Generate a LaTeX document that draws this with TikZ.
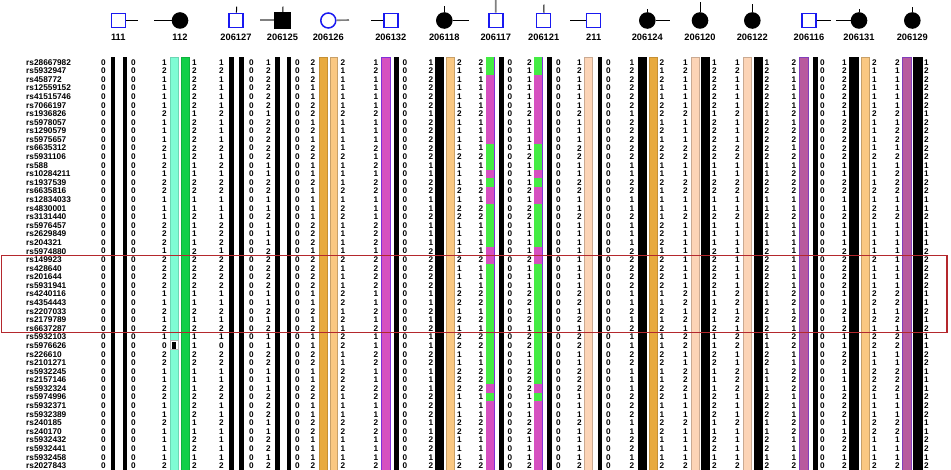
\documentclass[tikz,border=0pt]{standalone}
\usepackage{fontspec}
\setmainfont{Liberation Sans}
\definecolor{pblue}{RGB}{25,25,240}
\definecolor{aquab}{RGB}{127,252,212}
\definecolor{greenb}{RGB}{16,208,72}
\definecolor{orangeb}{RGB}{232,170,62}
\definecolor{lorangeb}{RGB}{250,200,130}
\definecolor{magentab}{RGB}{214,80,192}
\definecolor{greenc}{RGB}{68,236,68}
\definecolor{peachb}{RGB}{252,212,182}
\definecolor{purpleb}{RGB}{184,90,158}
\definecolor{redbox}{RGB}{180,40,45}
\definecolor{lgray}{RGB}{128,128,128}
% haplotypes (48 SNPs each)
\def\HZ{0,0,0,0,0,0,0,0,0,0,0,0,0,0,0,0,0,0,0,0,0,0,0,0,0,0,0,0,0,0,0,0,0,0,0,0,0,0,0,0,0,0,0,0,0,0,0,0}
\def\HA{1,2,1,1,1,1,2,1,1,1,2,1,2,1,2,2,1,1,1,2,2,2,1,2,2,2,2,1,1,2,1,2,1,0,2,2,1,1,2,2,1,1,2,1,1,1,1,2}
\def\HB{1,2,2,2,2,2,1,2,2,2,2,2,1,1,2,2,1,1,2,1,1,1,2,2,2,2,2,1,1,2,1,2,1,1,2,2,1,1,1,2,2,2,1,1,2,2,1,2}
\def\HC{2,1,2,1,1,2,2,1,2,1,2,2,1,1,2,1,1,1,1,2,2,2,1,2,2,2,2,1,1,2,1,2,1,1,2,2,1,1,2,2,1,1,2,2,1,1,1,2}
\def\HD{2,1,1,1,1,1,2,1,1,1,1,2,1,1,1,2,1,2,2,1,1,1,1,2,1,1,1,2,2,1,2,1,2,2,1,1,2,2,2,1,1,1,2,2,1,1,1,2}
\def\HE{1,2,1,1,1,1,2,1,1,1,2,1,2,1,2,2,1,1,1,2,2,2,1,2,2,2,2,1,1,2,1,2,1,1,2,2,1,1,2,2,1,1,2,2,1,1,1,2}
\def\HF{1,2,1,1,1,1,2,1,1,1,2,2,1,1,2,2,1,1,2,1,1,1,1,1,1,1,1,2,2,1,2,1,2,2,1,1,2,2,2,1,1,1,2,1,1,1,1,2}
\def\HG{2,1,1,1,1,1,2,1,2,2,1,2,1,2,2,2,1,1,2,1,1,1,1,1,1,1,1,2,2,1,2,1,2,2,1,1,2,2,2,1,1,1,2,2,1,1,1,2}
\newcommand\digcol[3]{%
  \foreach \d [count=\r] in #2 {\node[dig] (#3-\r) at (#1,{62.3+(\r-1)*8.585}) {\d};}}
\newcommand\hapbar[3]{\filldraw[#3] (#1,57.3) rectangle (#2,470);}
\tikzset{
  dig/.style={font=\bfseries\fontsize{8.2}{8.2}\selectfont, inner sep=0pt},
  snp/.style={font=\bfseries\fontsize{8.3}{8.3}\selectfont, inner sep=0pt, anchor=west},
  lab/.style={font=\bfseries\fontsize{9.3}{9.3}\selectfont, inner sep=0pt},
  male/.style={rectangle, draw=pblue, line width=1.5pt, fill=white, minimum size=14pt, inner sep=0pt},
  affmale/.style={rectangle, draw=black, fill=black, minimum size=16pt, inner sep=0pt},
  female/.style={circle, fill=black, minimum size=16.6pt, inner sep=0pt},
  femaleo/.style={circle, draw=pblue, line width=1.5pt, fill=white, minimum size=15pt, inner sep=0pt},
  pline/.style={draw=black, line width=1pt},
  gline/.style={draw=lgray, line width=1.6pt},
  blk/.style={fill=black, draw=black, line width=0.3pt},
  aq/.style={fill=aquab, draw=aquab!85!black, line width=0.3pt},
  gr/.style={fill=greenb, draw=greenb!85!black, line width=0.3pt},
  gc/.style={fill=greenc, draw=greenc, line width=0.3pt},
  orb/.style={fill=orangeb, draw=orangeb!85!black, line width=0.4pt},
  lob/.style={fill=lorangeb, draw=lorangeb!80!black, line width=0.4pt},
  mgb/.style={fill=magentab, draw=magentab!60!blue, line width=0.5pt},
  pcb/.style={fill=peachb, draw=peachb!80!black, line width=0.4pt},
  ppb/.style={fill=purpleb, draw=purpleb!70!blue, line width=0.5pt},
  rbox/.style={draw=redbox, line width=1.4pt}
}
\begin{document}
\begin{tikzpicture}[x=1pt,y=-1pt]
\useasboundingbox (0,0) rectangle (951,470);
% ---------- pedigree symbols ----------
\node[male]    (s111)    at (118.3,20.5) {};
\node[female]  (s112)    at (180,20.5) {};
\node[male]    (s206127) at (236,20.3) {};
\node[affmale] (s206125) at (282.5,20.3) {};
\node[femaleo] (s206126) at (328.3,20.5) {};
\node[male]    (s206132) at (390.8,20.5) {};
\node[female]  (s206118) at (444.3,20.5) {};
\node[male]    (s206117) at (495.8,20.5) {};
\node[male]    (s206121) at (543.7,20.5) {};
\node[male]    (s211)    at (593.7,20.5) {};
\node[female]  (s206124) at (647.3,20.5) {};
\node[female]  (s206120) at (700,20.5) {};
\node[female]  (s206122) at (752.3,20.5) {};
\node[male]    (s206116) at (809,20.5) {};
\node[female]  (s206131) at (859,20.5) {};
\node[female]  (s206129) at (912.3,20.5) {};
% line ends
\coordinate (h111) at (138,20.5);
\coordinate (h112) at (154,20.5);
\coordinate (h206125) at (260,20.3);
\coordinate (h206126) at (349,20);
\coordinate (h206132) at (371,20.5);
\coordinate (h206118) at (469,20.5);
\coordinate (h211) at (570,20.5);
\coordinate (h206124) at (670,20.5);
\coordinate (h206116) at (830.7,20.5);
\coordinate (h206131) at (836,20.5);
\coordinate (t206127) at (236.7,6.7);
\coordinate (t206125) at (283,6.7);
\coordinate (t206118) at (444.3,6);
\coordinate (t206117) at (495.7,0);
\coordinate (t206121) at (544,4.7);
\coordinate (t206124) at (647.3,9.3);
\coordinate (t206120) at (700,1.7);
\coordinate (t206122) at (752.3,4);
\coordinate (t206131) at (859,9.3);
\coordinate (t206129) at (912.3,7.3);
\draw[pline] (s111) -- (h111);
\draw[pline] (s112) -- (h112);
\draw[gline] (s206125) -- (h206125);
\draw[gline] (s206126) -- (h206126);
\draw[pline] (s206132) -- (h206132);
\draw[pline] (s206118) -- (h206118);
\draw[pline] (s211) -- (h211);
\draw[pline] (s206124) -- (h206124);
\draw[pline] (s206116) -- (h206116);
\draw[pline] (s206131) -- (h206131);
\draw[pline] (s206127) -- (t206127);
\draw[pline] (s206125) -- (t206125);
\draw[pline] (s206118) -- (t206118);
\draw[gline] (s206117) -- (t206117);
\draw[pline] (s206121) -- (t206121);
\draw[pline] (s206124) -- (t206124);
\draw[pline] (s206120) -- (t206120);
\draw[pline] (s206122) -- (t206122);
\draw[pline] (s206131) -- (t206131);
\draw[pline] (s206129) -- (t206129);
% labels
\foreach \n/\x in {111/118.3,112/180,206127/236,206125/282.5,206126/328.3,206132/390.8,206118/444.3,206117/495.8,206121/543.7,211/593.7,206124/647.3,206120/700,206122/752.3,206116/809,206131/859,206129/912.3}
  \node[lab] (l\n) at (\x,37.3) {\n};
% ---------- haplotype bars ----------
\hapbar{111}{114.5}{blk}\hapbar{123}{126.5}{blk}
\hapbar{170}{178.5}{aq}\hapbar{181}{189.5}{gr}
\fill[white] (169.8,340) rectangle (178.7,349.6);
\draw[lgray!60,line width=0.4pt] (170.3,340.5) rectangle (178.2,349.3);
\fill[black] (172.4,342) rectangle (176,349);
\hapbar{229}{233}{blk}\hapbar{239}{243}{blk}
\hapbar{275}{279}{blk}\hapbar{287}{290.5}{blk}
\hapbar{319}{327.3}{orb}\hapbar{330}{337.5}{lob}
\hapbar{381.5}{390}{mgb}\hapbar{394.5}{398}{blk}
\hapbar{435}{443.3}{blk}\hapbar{446}{454.3}{lob}
\hapbar{499.5}{503}{blk}
\hapbar{547.5}{551}{blk}
\foreach \xa in {486,534}{%
  \fill[greenc] (\xa,57.3) rectangle (\xa+8.4,470);
  \foreach \ya/\yb in {75.18/143.86,169.61/178.2,186.78/203.95,246.88/264.05,384.24/392.83,401.41/470}
    \fill[magentab] (\xa,\ya) rectangle (\xa+8.4,\yb);
  \draw[magentab!60!blue,line width=0.4pt] (\xa+8.4,57.3) -- (\xa+8.4,470);
}
\hapbar{584}{592.3}{pcb}\hapbar{598}{601.5}{blk}
\hapbar{638}{646.3}{blk}\hapbar{649}{657.3}{orb}
\hapbar{691}{699}{pcb}\hapbar{701.5}{709.5}{blk}
\hapbar{743}{751.2}{pcb}\hapbar{754}{762.2}{blk}
\hapbar{799.5}{808}{ppb}\hapbar{813}{816.8}{blk}
\hapbar{849.5}{858}{blk}\hapbar{861}{869.3}{lob}
\hapbar{902.5}{911}{ppb}\hapbar{913.5}{922}{blk}
% ---------- alleles ----------
\digcol{103.5}{\HZ}{a111}\digcol{133.3}{\HZ}{b111}
\digcol{164.3}{\HA}{a112}\digcol{194.3}{\HB}{b112}
\digcol{221.3}{\HA}{a206127}\digcol{251.3}{\HZ}{b206127}
\digcol{268.3}{\HB}{a206125}\digcol{297.3}{\HZ}{b206125}
\digcol{313}{\HC}{a206126}\digcol{343}{\HD}{b206126}
\digcol{376}{\HE}{a206132}\digcol{405}{\HZ}{b206132}
\digcol{431}{\HB}{a206118}\digcol{459.5}{\HD}{b206118}
\digcol{481}{\HD}{a206117}\digcol{510}{\HZ}{b206117}
\digcol{529.3}{\HD}{a206121}\digcol{558.3}{\HZ}{b206121}
\digcol{579.3}{\HF}{a211}\digcol{608.3}{\HZ}{b211}
\digcol{632}{\HB}{a206124}\digcol{662}{\HC}{b206124}
\digcol{685.3}{\HF}{a206120}\digcol{714.3}{\HB}{b206120}
\digcol{737.3}{\HF}{a206122}\digcol{767}{\HB}{b206122}
\digcol{794}{\HG}{a206116}\digcol{822.5}{\HZ}{b206116}
\digcol{844.3}{\HB}{a206131}\digcol{874.3}{\HD}{b206131}
\digcol{897.3}{\HG}{a206129}\digcol{926.3}{\HB}{b206129}
% ---------- SNP names ----------
\foreach \s [count=\r] in {rs28667982,rs5932947,rs458772,rs12559152,rs41515746,rs7066197,rs1936826,rs5978057,rs1290579,rs5975657,rs6635312,rs5931106,rs588,rs10284211,rs1937539,rs6635816,rs12834033,rs4830001,rs3131440,rs5976457,rs2629849,rs204321,rs5974880,rs149923,rs428640,rs201644,rs5931941,rs4240116,rs4354443,rs2207033,rs2179789,rs6637287,rs5932103,rs5976626,rs226610,rs2101271,rs5932245,rs2157146,rs5932324,rs5974996,rs5932371,rs5932389,rs240185,rs240170,rs5932432,rs5932441,rs5932458,rs2027843}
  \node[snp] (n\r) at (26,{62.3+(\r-1)*8.585}) {\s};
% ---------- highlighted block ----------
\draw[rbox] (1.7,255.5) rectangle (947,332.4);
\end{tikzpicture}
\end{document}
